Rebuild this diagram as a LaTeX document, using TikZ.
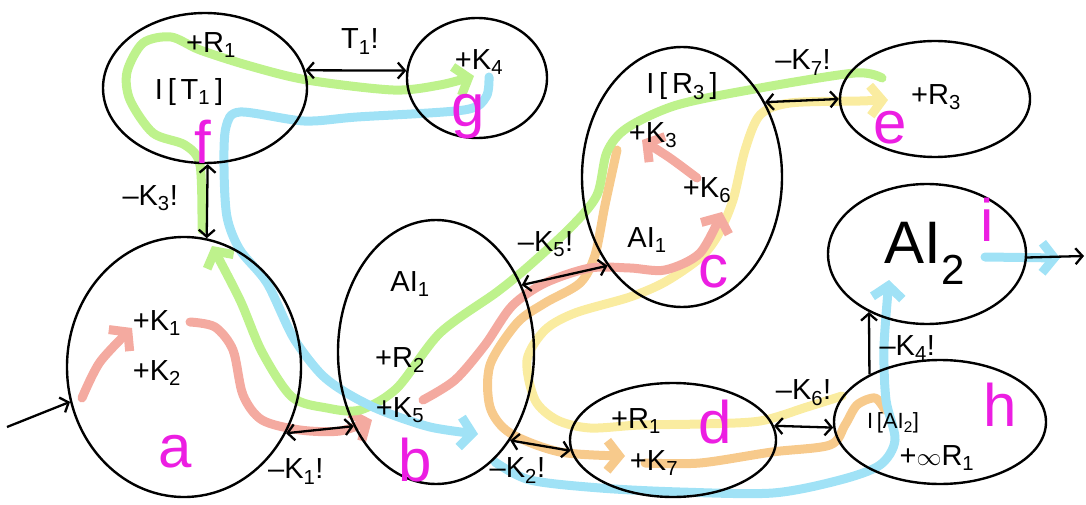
\documentclass[tikz,border=0pt]{standalone}
\usepackage{fontspec}
\setmainfont{Liberation Sans}
\usetikzlibrary{shapes.geometric, arrows.meta}

\definecolor{tagpink}{RGB}{236,30,226}
\definecolor{hlpink}{RGB}{244,170,160}
\definecolor{hlgreen}{RGB}{190,242,140}
\definecolor{hlblue}{RGB}{160,226,246}
\definecolor{hlyellow}{RGB}{250,236,160}
\definecolor{hlorange}{RGB}{247,202,140}

\begin{document}
\begin{tikzpicture}
        [x=1pt, y=-1pt,
        blob/.style={ellipse, draw, line width=2.4pt, inner sep=0pt},
        lbl/.style={font=\fontsize{29}{31}\selectfont, inner sep=0pt},
        tag/.style={font=\fontsize{60}{62}\selectfont, text=tagpink, inner sep=0pt},
        link/.style={line width=2.3pt, {Straight Barb[length=7pt,width=16pt]}-{Straight Barb[length=7pt,width=16pt]}},
        oneway/.style={line width=2.3pt, -{Straight Barb[length=7pt,width=16pt]}},
        hl/.style={line width=9pt, line cap=round, line join=round},
        hlto/.style={hl, -{Straight Barb[length=12pt,width=30pt]}}]

        \useasboundingbox (0,0) rectangle (1086,505);

        % highlighter routes (drawn first, under the ink)
        \draw[hl, hlorange] plot[smooth] coordinates {(645,463) (700,463) (772,452) (830,445) (845,425) (857,405) (875,398) (885,410)};
        \draw[hlto, hlorange] plot[smooth] coordinates {(617,150) (605,205) (595,255) (580,283) (545,303) (517,323) (490,365) (490,407) (510,433) (560,452) (625,456)};
        \draw[hlto, hlyellow] plot[smooth] coordinates {(842,396) (807,407) (760,421) (700,424) (640,425) (590,428) (557,420) (535,400) (527,360) (545,330) (575,313) (630,297) (665,282) (700,258) (718,235) (733,200) (745,150) (760,115) (790,103) (860,101) (888,100)};
        \draw[hlto, hlpink] plot[smooth] coordinates {(82,398) (100,362) (132,328)};
        \draw[hlto, hlpink] plot[smooth] coordinates {(190,322) (215,327) (233,350) (243,395) (262,420) (300,430) (340,431) (372,420)};
        \draw[hlto, hlpink] plot[smooth] coordinates {(423,400) (455,380) (485,345) (512,306) (545,283) (590,268) (630,268) (665,270) (700,253) (722,212)};
        \draw[hlto, hlpink] plot[smooth] coordinates {(697,178) (670,158) (642,140)};
        \draw[hlto, hlgreen] plot[smooth] coordinates {(882,78) (855,73) (760,88) (677,105) (627,128) (607,152) (597,195) (572,226) (530,265) (497,292) (440,333) (397,388) (360,410) (327,408) (292,397) (262,352) (240,300) (212,246)};
        \draw[hlto, hlgreen] plot[smooth] coordinates {(202,230) (200,165) (185,145) (153,133) (130,100) (127,72) (143,43) (171,37) (200,50) (250,66) (307,80) (393,90) (440,85) (474,76)};
        \draw[hlto, hlblue] plot[smooth] coordinates {(489,77) (486,97) (464,110) (357,117) (304,121) (240,112) (226,127) (224,167) (227,217) (240,250) (267,283) (293,337) (320,373) (345,392) (380,410) (430,427) (478,434)};
        \draw[hlto, hlblue] plot[smooth] coordinates {(495,462) (530,480) (600,488) (680,492) (773,493) (840,480) (880,465) (895,440) (886,400) (884,347) (889,280)};
        \draw[hlto, hlblue] plot[smooth] coordinates {(985,257) (1060,258)};

        % regions
        \node[blob, minimum width=204pt, minimum height=150pt] (f) at (205,88) {};
        \node[blob, minimum width=140pt, minimum height=120pt] (g) at (477,78) {};
        \node[blob, minimum width=234pt, minimum height=260pt] (a) at (184,367) {};
        \node[blob, minimum width=196pt, minimum height=264pt] (b) at (436,352) {};
        \node[blob, minimum width=200pt, minimum height=260pt] (c) at (682,177) {};
        \node[blob, minimum width=190pt, minimum height=116pt] (e) at (935,99) {};
        \node[blob, minimum width=198pt, minimum height=140pt] (i) at (927,254) {};
        \node[blob, minimum width=206pt, minimum height=114pt] (d) at (673,440) {};
        \node[blob, minimum width=212pt, minimum height=124pt] (h) at (940,422) {};

        % region letters
        \node[tag] (tf) at (203,142) {f};
        \node[tag] (tg) at (468,117) {g};
        \node[tag] (ta) at (175,452) {a};
        \node[tag] (tb) at (415,460) {b};
        \node[tag] (tc) at (713,272) {c};
        \node[tag] (te) at (890,128) {e};
        \node[tag] (td) at (715,422) {d};
        \node[tag] (th) at (1000,405) {h};
        \node[tag] (ti) at (987,220) {i};

        % region contents
        \node[lbl] (fR) at (211,45) {+R\textsubscript{1}};
        \node[lbl] (fT) at (189,92) {I\,[\,T\textsubscript{1}\,]};
        \node[lbl] (gK) at (479,62) {+K\textsubscript{4}};
        \node[lbl] (aK1) at (157,323) {+K\textsubscript{1}};
        \node[lbl] (aK2) at (157,373) {+K\textsubscript{2}};
        \node[lbl] (bAI) at (410,284) {AI\textsubscript{1}};
        \node[lbl] (bR) at (400,360) {+R\textsubscript{2}};
        \node[lbl] (bK) at (400,410) {+K\textsubscript{5}};
        \node[lbl] (cI) at (682,86) {I\,[\,R\textsubscript{3}\,]};
        \node[lbl] (cK3) at (653,135) {+K\textsubscript{3}};
        \node[lbl] (cK6) at (707,190) {+K\textsubscript{6}};
        \node[lbl] (cAI) at (647,240) {AI\textsubscript{1}};
        \node[lbl] (eR) at (936,97) {+R\textsubscript{3}};
        \node[font=\fontsize{60}{62}\selectfont, inner sep=0pt] (iAI) at (925,253) {AI\textsubscript{2}};
        \node[lbl] (dR) at (636,421) {+R\textsubscript{1}};
        \node[lbl] (dK) at (654,463) {+K\textsubscript{7}};
        \node[lbl, font=\fontsize{22}{24}\selectfont] (hI) at (893,423) {I\,[AI\textsubscript{2}]};
        \node[lbl] (hR) at (937,458) {+$\infty$R\textsubscript{1}};

        % moves between regions
        \coordinate (in) at (7,427);
        \coordinate (out) at (1084,256);
        \draw[oneway] (in) -- (a.197);
        \draw[oneway] (i.-2) -- (out);
        \draw[link] (f.10) -- (g.174) node[lbl, midway, xshift=4pt, yshift=29pt] {T\textsubscript{1}!};
        \draw[link] (f.-88) -- (a.80) node[lbl, midway, xshift=-57pt, yshift=3pt] {--K\textsubscript{3}!};
        \draw[link] (a.-33) -- (b.222) node[lbl, midway, xshift=-24pt, yshift=-42pt] {--K\textsubscript{1}!};
        \draw[link] (b.38) -- (c.230) node[lbl, midway, xshift=-19pt, yshift=31pt] {--K\textsubscript{5}!};
        \draw[link] (b.-50) -- (d.186) node[lbl, midway, xshift=-23pt, yshift=-25pt] {--K\textsubscript{2}!};
        \draw[link] (c.42) -- (e.180) node[lbl, midway, xshift=1pt, yshift=38pt] {--K\textsubscript{7}!};
        \draw[link] (d.8) -- (h.183) node[lbl, midway, yshift=34pt] {--K\textsubscript{6}!};
        \draw[oneway] (h.146) -- (i.225) node[lbl, midway, xshift=38pt, yshift=-5pt] {--K\textsubscript{4}!};

\end{tikzpicture}
\end{document}
